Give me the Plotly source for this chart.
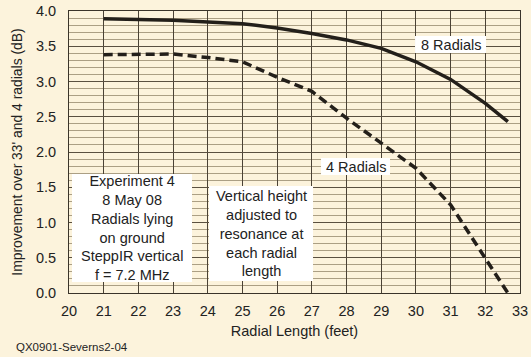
import plotly.graph_objects as go

# Data
radial_len_8 = [21, 23, 25, 26, 27, 28, 29, 30, 31, 32, 32.65]
gain_8 = [3.89, 3.87, 3.82, 3.76, 3.68, 3.59, 3.47, 3.28, 3.03, 2.69, 2.43]

radial_len_4 = [21, 23, 24, 25, 26, 27, 28, 29, 30, 31, 32, 32.65]
gain_4 = [3.38, 3.39, 3.34, 3.28, 3.06, 2.86, 2.48, 2.12, 1.77, 1.25, 0.49, 0.0]

x_ticks = list(range(20, 34))
y_ticks = [0.0, 0.5, 1.0, 1.5, 2.0, 2.5, 3.0, 3.5, 4.0]

BG = "#FCF3DC"
FONT = "Liberation Sans, Arial, sans-serif"

fig = go.Figure()
fig.add_trace(go.Scatter(x=radial_len_8, y=gain_8, mode="lines",
                         line=dict(color="#231f1a", width=3.5), name="8 Radials"))
fig.add_trace(go.Scatter(x=radial_len_4, y=gain_4, mode="lines",
                         line=dict(color="#231f1a", width=3.5, dash="9px,5px"), name="4 Radials"))

# white label boxes (data coords)
def box(x0, x1, y0, y1):
    fig.add_shape(type="rect", xref="x", yref="y", x0=x0, x1=x1, y0=y0, y1=y1,
                  fillcolor="white", line=dict(width=0), layer="above")

def px2x(p):
    return (p - 69) / 34.69 + 20

def px2y(p):
    return (293 - p) / 70.5

box(px2x(415), px2x(486), px2y(53), px2y(36))
box(px2x(321), px2x(390), px2y(175), px2y(158))
box(px2x(72), px2x(192), px2y(282), px2y(174))
box(px2x(209), px2x(313), px2y(281), px2y(186))

tf = dict(family=FONT, size=14.5, color="#222")
fig.add_annotation(x=px2x(450.5), y=px2y(45), text="8 Radials", showarrow=False, font=tf)
fig.add_annotation(x=px2x(355.5), y=px2y(166.5), text="4 Radials", showarrow=False, font=tf)
fig.add_annotation(x=px2x(132), y=px2y(228), showarrow=False, font=tf,
                   text="Experiment 4<br>8 May 08<br>Radials lying<br>on ground<br>SteppIR vertical<br>f = 7.2 MHz")
fig.add_annotation(x=px2x(261), y=px2y(233.5), showarrow=False, font=tf,
                   text="Vertical height<br>adjusted to<br>resonance at<br>each radial<br>length")
fig.add_annotation(xref="paper", yref="paper", x=-55/451, y=-(347-293)/282,
                   xanchor="left", yanchor="middle", showarrow=False,
                   text="QX0901-Severns2-04", font=dict(family=FONT, size=11.5, color="#222"))

fig.update_layout(
    width=531, height=357,
    margin=dict(l=69, r=11, t=11, b=64, autoexpand=False),
    paper_bgcolor=BG, plot_bgcolor=BG,
    showlegend=False,
    font=dict(family=FONT, color="#222"),
)
fig.update_xaxes(range=[20, 33], tickvals=x_ticks, ticktext=[str(v) for v in x_ticks],
                 showgrid=True, gridcolor="#4a4235", gridwidth=1, automargin=False,
                 showline=True, linecolor="#3a342a", linewidth=1, mirror=True,
                 ticks="", ticklabelstandoff=5, zeroline=False,
                 tickfont=dict(family=FONT, size=14.5, color="#222"),
                 title=dict(text="Radial Length (feet)", standoff=7,
                            font=dict(family=FONT, size=14.5, color="#222")))
fig.update_yaxes(range=[0, 4], tickvals=y_ticks, ticktext=[f"{v:.1f}" for v in y_ticks],
                 showgrid=True, gridcolor="#5a5040", gridwidth=1, automargin=False,
                 minor=dict(dtick=0.1, showgrid=True, gridcolor="#ab9f84", gridwidth=1),
                 showline=True, linecolor="#3a342a", linewidth=1, mirror=True,
                 ticks="", ticklabelstandoff=9, zeroline=False,
                 tickfont=dict(family=FONT, size=14.5, color="#222"),
                 title=dict(text="Improvement over 33' and 4 radials (dB)", standoff=10,
                            font=dict(family=FONT, size=13.9, color="#222")))

fig.write_html("out.html", config={"displayModeBar": False},
               post_script="document.body.style.margin='0';document.body.style.background='#FCF3DC';document.body.style.overflow='hidden';")
